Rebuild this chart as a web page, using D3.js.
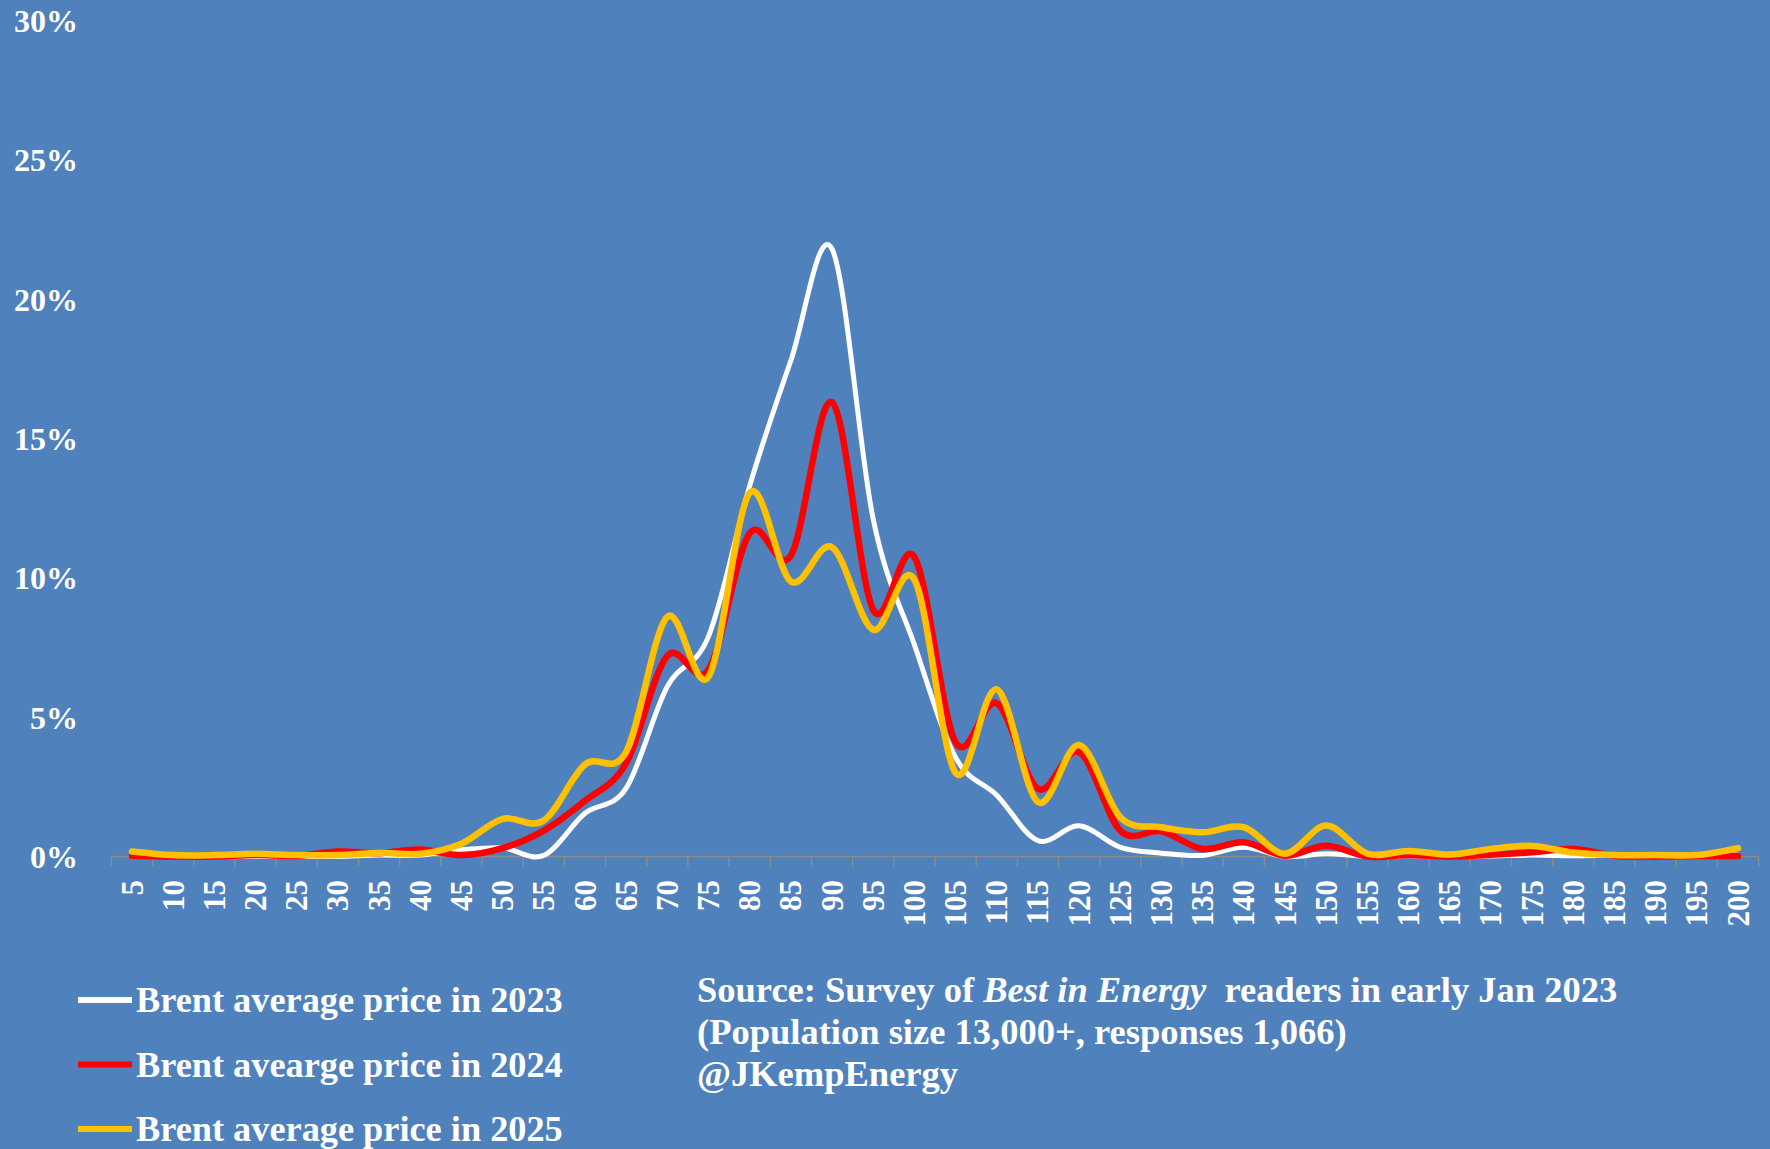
<!DOCTYPE html>
<html>
<head>
<meta charset="utf-8">
<script src="https://cdn.jsdelivr.net/npm/d3@7"></script>
<style>
  html, body { margin: 0; padding: 0; background: #4F81BD; }
  svg { display: block; }
  text { font-family: "Liberation Serif", "Times New Roman", serif; fill: #ffffff; }
</style>
</head>
<body>
<svg id="chart" width="1770" height="1149"></svg>
<script>
// Price buckets (USD per barrel) used on the category axis
const prices = [5, 10, 15, 20, 25, 30, 35, 40, 45, 50, 55, 60, 65, 70, 75, 80, 85, 90, 95, 100,
                105, 110, 115, 120, 125, 130, 135, 140, 145, 150, 155, 160, 165, 170, 175, 180, 185, 190, 195, 200];

// Share of responses (%) expecting each average price
const brent2023 = [0.05, 0, 0, 0, 0, 0, 0.05, 0.05, 0.24, 0.31, 0.04, 1.55, 2.45, 6.1, 7.9, 13.3, 17.8, 21.8, 12.1, 7.6,
                   3.55, 2.2, 0.57, 1.1, 0.33, 0.12, 0.04, 0.33, 0, 0.1, 0, 0.03, 0, 0.02, 0.05, 0.03, 0.05, 0.05, 0.05, 0.05];
const brent2024 = [0.03, 0, 0, 0.05, 0.02, 0.18, 0.12, 0.25, 0.05, 0.3, 0.93, 2.0, 3.35, 7.2, 6.7, 11.6, 10.8, 16.3, 8.85, 10.75,
                   4.1, 5.5, 2.43, 3.75, 0.93, 0.9, 0.27, 0.51, 0.03, 0.39, 0, 0.05, 0, 0.06, 0.15, 0.27, 0.03, 0, 0.02, 0.02];
const brent2025 = [0.18, 0.05, 0.05, 0.1, 0.05, 0.05, 0.13, 0.1, 0.46, 1.35, 1.29, 3.3, 3.75, 8.6, 6.45, 13.05, 9.87, 11.1, 8.14, 9.94,
                   3.0, 6.0, 1.95, 4.0, 1.41, 1.05, 0.87, 1.05, 0.1, 1.11, 0.1, 0.2, 0.07, 0.27, 0.38, 0.14, 0.05, 0.05, 0.05, 0.3];

const yTicks = [0, 5, 10, 15, 20, 25, 30];

const seriesNames = ["Brent average price in 2023", "Brent avearge price in 2024", "Brent average price in 2025"];
const seriesColors = ["#FFFFFF", "#FF0000", "#FFC000"];
const seriesWidths = [5, 6.5, 6.5];

const sourceLines = [
  [{t: "Source: Survey of "}, {t: "Best in Energy", italic: true}, {t: "\u00A0 readers in early Jan 2023"}],
  [{t: "(Population size 13,000+, responses 1,066)"}],
  [{t: "@JKempEnergy"}]
];

const svg = d3.select("#chart");
const W = 1770, H = 1149;

svg.append("rect").attr("width", W).attr("height", H).attr("fill", "#4F81BD");

// Scales
const x = d3.scaleBand().domain(prices).range([111.4, 1758.6]).paddingInner(0).paddingOuter(0);
const xc = d => x(d) + x.bandwidth() / 2;
const y = d3.scaleLinear().domain([0, 30]).range([856.5, 20.5]);

// Y axis labels (no axis line)
const yAxis = d3.axisLeft(y).tickValues(yTicks).tickSize(0).tickPadding(0).tickFormat(d => d + "%");
const yg = svg.append("g").attr("transform", "translate(78,0)").call(yAxis);
yg.select(".domain").remove();
yg.selectAll("text")
  .attr("fill", "#fff")
  .style("font-size", "32px")
  .style("font-weight", "bold")
  .attr("dy", "0.34em");

// X axis: line with tick marks between categories
const axisColor = "#8C8C8C";
svg.append("line")
  .attr("x1", x.range()[0]).attr("x2", x.range()[1])
  .attr("y1", y(0)).attr("y2", y(0))
  .attr("stroke", axisColor).attr("stroke-width", 1.5);

const edges = prices.map(p => x(p)).concat([x.range()[1]]);
svg.append("g").selectAll("line").data(edges).join("line")
  .attr("x1", d => d).attr("x2", d => d)
  .attr("y1", y(0)).attr("y2", y(0) + 10)
  .attr("stroke", axisColor).attr("stroke-width", 1.5);

svg.append("g").selectAll("text").data(prices).join("text")
  .attr("transform", d => `translate(${xc(d)},880) rotate(-90)`)
  .attr("text-anchor", "end")
  .attr("dy", "0.34em")
  .style("font-size", "31px")
  .style("font-weight", "bold")
  .text(d => d);

// Smoothed distribution lines
const line = d3.line()
  .x((d, i) => xc(prices[i]))
  .y(d => y(d))
  .curve(d3.curveCatmullRom.alpha(0));

[brent2023, brent2024, brent2025].forEach((vals, k) => {
  svg.append("path")
    .datum(vals)
    .attr("d", line)
    .attr("fill", "none")
    .attr("stroke", seriesColors[k])
    .attr("stroke-width", seriesWidths[k])
    .attr("stroke-linejoin", "round")
    .attr("stroke-linecap", "round");
});

// Legend
const legendY = [1000, 1064.5, 1129];
seriesNames.forEach((name, k) => {
  svg.append("line")
    .attr("x1", 78).attr("x2", 132)
    .attr("y1", legendY[k]).attr("y2", legendY[k])
    .attr("stroke", seriesColors[k]).attr("stroke-width", 6);
  svg.append("text")
    .attr("x", 136).attr("y", legendY[k] + 12)
    .style("font-size", "36.3px")
    .style("font-weight", "bold")
    .text(name);
});

// Source note
const sourceBase = [1002, 1044, 1086];
sourceLines.forEach((parts, k) => {
  const t = svg.append("text")
    .attr("x", 697).attr("y", sourceBase[k])
    .style("font-size", "36.5px")
    .style("font-weight", "bold");
  parts.forEach(p => {
    t.append("tspan")
      .style("font-style", p.italic ? "italic" : "normal")
      .text(p.t);
  });
});
</script>
</body>
</html>
